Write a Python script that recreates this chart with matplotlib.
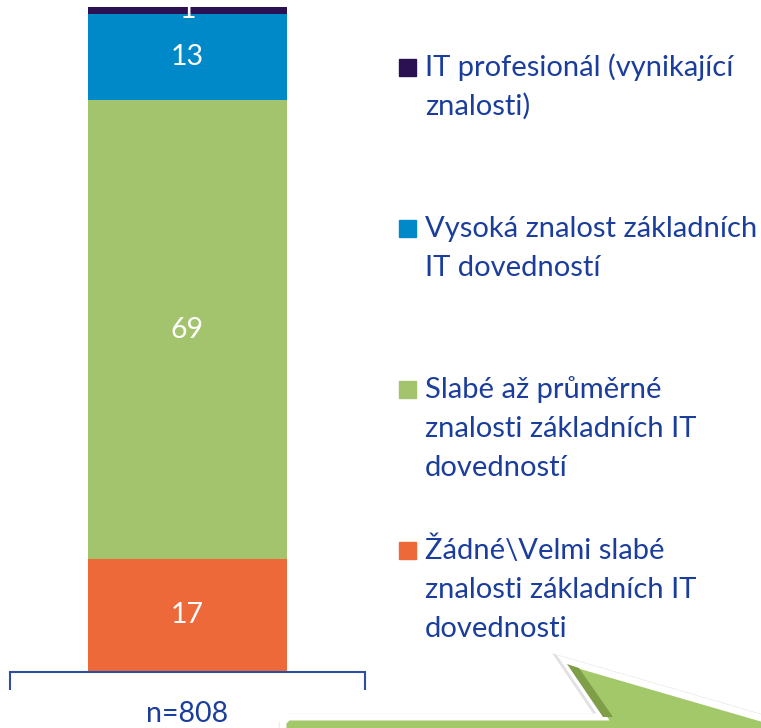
import matplotlib.pyplot as plt
from matplotlib.patches import Polygon, Rectangle

# stacked values (percent), bottom to top
series = ["Žádné\\Velmi slabé\nznalosti základních IT\ndovednosti",
          "Slabé až průměrné\nznalosti základních IT\ndovedností",
          "Vysoká znalost základních\nIT dovedností",
          "IT profesionál (vynikající\nznalosti)"]
values = [17, 69, 13, 1]
colors = ["#EE693A", "#A3C46C", "#0089C9", "#2B1152"]
category = "n=808"

W, H = 761, 728
TEXT_BLUE = "#1B3D9C"
plt.rcParams['font.family'] = ['Lato', 'DejaVu Sans']


def px(x, y):
    # pixel position (from top-left) -> figure fraction
    return x / W, 1 - y / H


fig = plt.figure(figsize=(W / 100, H / 100), dpi=100)
ax = fig.add_axes([10 / W, 56 / H, 355 / W, 665 / H])

bottom = 0
for val, col in zip(values, colors):
    ax.bar(0, val, bottom=bottom, width=0.558, color=col, zorder=2)
    ax.text(0, bottom + val / 2, str(val), ha='center', va='center',
            color='white', fontsize=20.5, clip_on=False, zorder=3)
    bottom += val

ax.set_xlim(-0.5, 0.5)
ax.set_ylim(0, 100)
ax.set_yticks([])
for s in ['top', 'right', 'left']:
    ax.spines[s].set_visible(False)
ax.spines['bottom'].set_color('#2E4FA0')
ax.spines['bottom'].set_linewidth(1.5)
ax.set_xticks([0])
ax.set_xticklabels([category], fontsize=20.5, color=TEXT_BLUE)
ax.tick_params(axis='x', which='major', length=0, pad=21)
ax.set_xticks([-0.5, 0.5], minor=True)
ax.tick_params(axis='x', which='minor', length=13, width=1.5,
               color='#2E4FA0', direction='out')

# legend drawn by hand, top entry first
baselines = [76, 237, 398, 559]
for base, name, col in zip(baselines, series[::-1], colors[::-1]):
    x0, y0 = px(399, base)
    fig.add_artist(Rectangle((x0, y0), 17 / W, 17 / H, color=col,
                             transform=fig.transFigure))
    for i, line in enumerate(name.split('\n')):
        tx, ty = px(425, base + i * 39)
        fig.text(tx, ty, line, ha='left', va='baseline', fontsize=21,
                 color=TEXT_BLUE)

# green callout in the lower right corner
shape = [(283, 760), (283, 722), (288, 717), (603, 717), (565, 661),
         (775, 722), (775, 760)]
shadow = [(x + 2, y + 3) for x, y in shape]
fig.add_artist(Polygon([px(x, y) for x, y in shadow], closed=True,
                       facecolor='#888888', alpha=0.25, edgecolor='#888888',
                       linewidth=9, transform=fig.transFigure))
fig.add_artist(Polygon([px(x, y) for x, y in shape], closed=True,
                       facecolor='#A3C86A', edgecolor='white', linewidth=5,
                       transform=fig.transFigure))
edge = [(567, 664), (603, 717), (613, 717), (579, 668)]
fig.add_artist(Polygon([px(x, y) for x, y in edge], closed=True,
                       facecolor='#7E9E48', edgecolor='none',
                       transform=fig.transFigure))

fig.savefig('out.png', dpi=100)
